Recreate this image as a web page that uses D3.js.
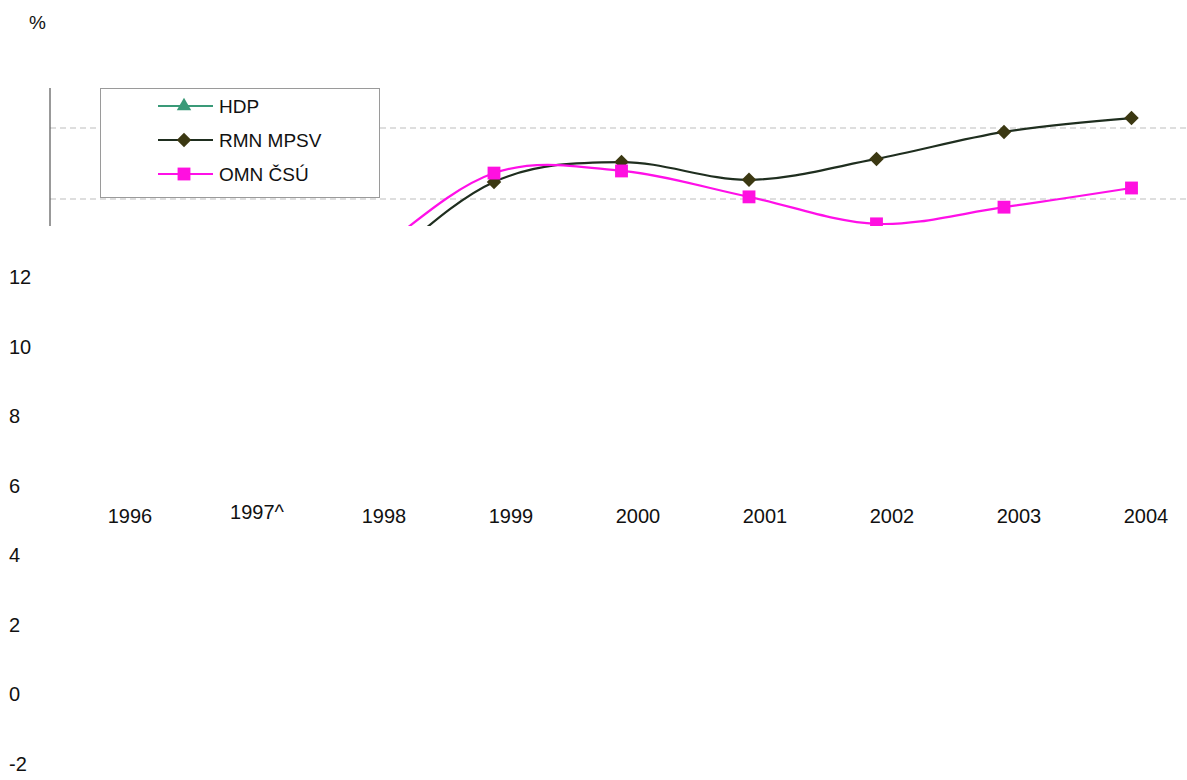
<!DOCTYPE html>
<html>
<head>
<meta charset="utf-8">
<script src="https://cdn.jsdelivr.net/npm/d3@7/dist/d3.min.js"></script>
<style>
  html, body { margin: 0; padding: 0; background: #fff; }
  svg { display: block; font-family: "Liberation Sans", Arial, sans-serif; }
</style>
</head>
<body>
<svg id="chart" width="1187" height="780"></svg>
<script>
// ---- data ----
const years = ["1996", "1997", "1998", "1999", "2000", "2001", "2002", "2003", "2004"];
const yearLabels = ["1996", "1997^", "1998", "1999", "2000", "2001", "2002", "2003", "2004"];
const seriesNames = ["HDP", "RMN MPSV", "OMN ČSÚ"];
const hdp = [4.2, -0.7, -1.1, 1.2, 3.9, 2.6, 1.5, 3.2, 4.7];
const rmn = [6.5, 5.0, 7.8, 10.48, 11.04, 10.54, 11.13, 11.89, 12.28];
const omn = [6.8, 5.5, 8.3, 10.73, 10.79, 10.06, 9.30, 9.77, 10.31];
const yTickLabels = [12, 10, 8, 6, 4, 2, 0, -2];
const gridValues = [12, 10];

const svg = d3.select("#chart");

// plot strip (only top part of the chart is visible)
const strip = { left: 50, right: 1187, top: 88, bottom: 226 };
const x = d3.scalePoint().domain(years).range([111.5, 1131.5]);
const y = d3.scaleLinear().domain([10, 12]).range([199, 128]);

svg.append("defs").append("clipPath").attr("id", "clip")
  .append("rect")
  .attr("x", strip.left).attr("y", strip.top)
  .attr("width", strip.right - strip.left).attr("height", strip.bottom - strip.top);

// gridlines
svg.append("g").selectAll("line").data(gridValues).join("line")
  .attr("x1", strip.left).attr("x2", strip.right)
  .attr("y1", d => y(d)).attr("y2", d => y(d))
  .attr("stroke", "#bdbdbd").attr("stroke-width", 1)
  .attr("stroke-dasharray", "6,4");

// left axis line
svg.append("line")
  .attr("x1", strip.left).attr("x2", strip.left)
  .attr("y1", strip.top).attr("y2", strip.bottom)
  .attr("stroke", "#555").attr("stroke-width", 1.2);

const series = [
  { name: seriesNames[0], values: hdp, line: "#3a9a78", fill: "#3a9a78", shape: d3.symbolTriangle, size: 90, rot: 0 },
  { name: seriesNames[1], values: rmn, line: "#1f2e1f", fill: "#3b3812", shape: d3.symbolSquare, size: 105, rot: 45 },
  { name: seriesNames[2], values: omn, line: "#ff10e8", fill: "#ff10e0", shape: d3.symbolSquare, size: 165, rot: 0 }
];

const lineGen = d3.line()
  .x((d, i) => x(years[i]))
  .y(d => y(d))
  .curve(d3.curveCardinal.tension(0));

const plot = svg.append("g").attr("clip-path", "url(#clip)");
series.forEach(s => {
  plot.append("path")
    .datum(s.values)
    .attr("d", lineGen)
    .attr("fill", "none")
    .attr("stroke", s.line)
    .attr("stroke-width", 2.2);
});
series.forEach(s => {
  plot.append("g").selectAll("path").data(s.values).join("path")
    .attr("transform", (d, i) => `translate(${x(years[i])},${y(d)}) rotate(${s.rot})`)
    .attr("d", d3.symbol().type(s.shape).size(s.size))
    .attr("fill", s.fill);
});

// legend
const lg = svg.append("g");
lg.append("rect").attr("x", 100.5).attr("y", 88.5).attr("width", 279).attr("height", 109)
  .attr("fill", "#fff").attr("stroke", "#9a9a9a").attr("stroke-width", 1);
const legendY = d3.scalePoint().domain(seriesNames).range([106, 174]);
series.forEach(s => {
  const ly = legendY(s.name);
  lg.append("line").attr("x1", 158).attr("x2", 213).attr("y1", ly).attr("y2", ly)
    .attr("stroke", s.line).attr("stroke-width", 2);
  lg.append("path").attr("transform", `translate(184,${ly}) rotate(${s.rot})`)
    .attr("d", d3.symbol().type(s.shape).size(s.size)).attr("fill", s.fill);
  lg.append("text").attr("x", 219).attr("y", ly + 7)
    .attr("font-size", 19).attr("fill", "#111").text(s.name);
});

// "%" unit label
svg.append("text").attr("x", 29).attr("y", 29).attr("font-size", 19).attr("fill", "#111").text("%");

// y tick labels (displaced column)
const yLab = d3.scaleLinear().domain([12, -2]).range([284, 771]);
svg.append("g").selectAll("text").data(yTickLabels).join("text")
  .attr("x", 9).attr("y", d => yLab(d))
  .attr("font-size", 20).attr("fill", "#111").text(d => d);

// x tick labels (displaced row)
const xLab = d3.scalePoint().domain(years).range([130, 1146]);
svg.append("g").selectAll("text").data(years).join("text")
  .attr("x", d => xLab(d)).attr("y", (d, i) => yearLabels[i].includes("^") ? 519 : 523)
  .attr("text-anchor", "middle")
  .attr("font-size", 20).attr("fill", "#111")
  .text((d, i) => yearLabels[i]);
</script>
</body>
</html>
